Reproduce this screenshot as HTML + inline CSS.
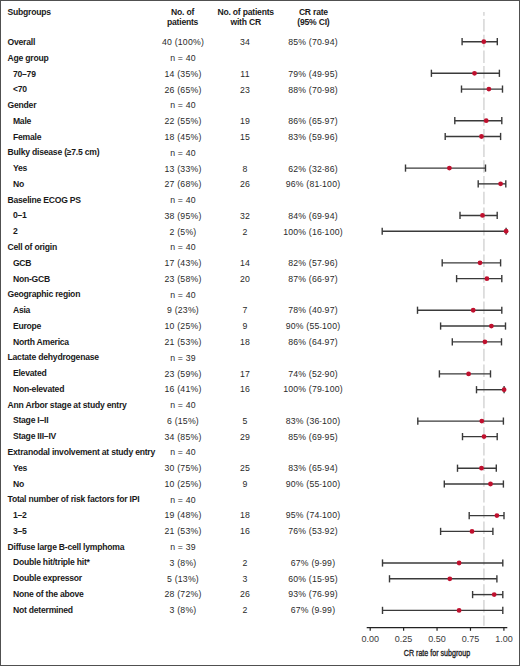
<!DOCTYPE html>
<html><head><meta charset="utf-8"><style>
html,body{margin:0;padding:0;background:#fff;}
#c{position:relative;width:520px;height:666px;overflow:hidden;background:#fff;font-family:"Liberation Sans",sans-serif;}
#c .bd{position:absolute;left:0;top:0;width:518px;height:664px;border:1px solid #505050;}
.l{position:absolute;font-size:8.6px;line-height:12px;font-weight:bold;color:#1a1a1a;white-space:nowrap;letter-spacing:-0.22px;}
.d{position:absolute;width:80px;text-align:center;font-size:8.4px;line-height:12px;color:#2a2a2a;white-space:nowrap;letter-spacing:0.2px;transform:scaleX(1.04);transform-origin:50% 50%;}
.h{position:absolute;width:90px;text-align:center;font-size:8.6px;line-height:10px;font-weight:bold;color:#1a1a1a;white-space:nowrap;letter-spacing:-0.22px;}
.hy{font-size:6.6px;position:relative;top:-0.5px;}
.tk{position:absolute;width:40px;text-align:center;font-size:9px;line-height:12px;color:#3a3a3a;white-space:nowrap;}
.at{position:absolute;width:100px;text-align:center;font-size:9.3px;line-height:12px;color:#222;white-space:nowrap;-webkit-text-stroke:0.35px #222;transform:scaleX(0.765);transform-origin:50% 0;}
svg{position:absolute;left:0;top:0;}
</style></head><body><div id="c">
<svg width="520" height="666" viewBox="0 0 520 666"><line x1="483.9" y1="12" x2="483.9" y2="625.8" stroke="#dcdcdc" stroke-width="1.8" stroke-dasharray="12.5,3.2" stroke-dashoffset="8.7"/><line x1="462.1" y1="41.70" x2="497.3" y2="41.70" stroke="#3a3a3a" stroke-width="1.4"/><line x1="462.1" y1="38.10" x2="462.1" y2="45.30" stroke="#3a3a3a" stroke-width="1.4"/><line x1="497.3" y1="38.10" x2="497.3" y2="45.30" stroke="#3a3a3a" stroke-width="1.4"/><circle cx="483.8" cy="41.70" r="2.4" fill="#c0102e"/><line x1="431.4" y1="73.29" x2="499.4" y2="73.29" stroke="#3a3a3a" stroke-width="1.4"/><line x1="431.4" y1="69.69" x2="431.4" y2="76.89" stroke="#3a3a3a" stroke-width="1.4"/><line x1="499.4" y1="69.69" x2="499.4" y2="76.89" stroke="#3a3a3a" stroke-width="1.4"/><circle cx="474.5" cy="73.29" r="2.4" fill="#c0102e"/><line x1="461.5" y1="89.09" x2="502.5" y2="89.09" stroke="#3a3a3a" stroke-width="1.4"/><line x1="461.5" y1="85.49" x2="461.5" y2="92.69" stroke="#3a3a3a" stroke-width="1.4"/><line x1="502.5" y1="85.49" x2="502.5" y2="92.69" stroke="#3a3a3a" stroke-width="1.4"/><circle cx="488.9" cy="89.09" r="2.4" fill="#c0102e"/><line x1="454.8" y1="120.69" x2="501.8" y2="120.69" stroke="#3a3a3a" stroke-width="1.4"/><line x1="454.8" y1="117.09" x2="454.8" y2="124.28" stroke="#3a3a3a" stroke-width="1.4"/><line x1="501.8" y1="117.09" x2="501.8" y2="124.28" stroke="#3a3a3a" stroke-width="1.4"/><circle cx="486.2" cy="120.69" r="2.4" fill="#c0102e"/><line x1="445.2" y1="136.48" x2="500.6" y2="136.48" stroke="#3a3a3a" stroke-width="1.4"/><line x1="445.2" y1="132.88" x2="445.2" y2="140.08" stroke="#3a3a3a" stroke-width="1.4"/><line x1="500.6" y1="132.88" x2="500.6" y2="140.08" stroke="#3a3a3a" stroke-width="1.4"/><circle cx="481.5" cy="136.48" r="2.4" fill="#c0102e"/><line x1="405.5" y1="168.08" x2="485.5" y2="168.08" stroke="#3a3a3a" stroke-width="1.4"/><line x1="405.5" y1="164.48" x2="405.5" y2="171.68" stroke="#3a3a3a" stroke-width="1.4"/><line x1="485.5" y1="164.48" x2="485.5" y2="171.68" stroke="#3a3a3a" stroke-width="1.4"/><circle cx="449.4" cy="168.08" r="2.4" fill="#c0102e"/><line x1="478.2" y1="183.87" x2="505.8" y2="183.87" stroke="#3a3a3a" stroke-width="1.4"/><line x1="478.2" y1="180.27" x2="478.2" y2="187.47" stroke="#3a3a3a" stroke-width="1.4"/><line x1="505.8" y1="180.27" x2="505.8" y2="187.47" stroke="#3a3a3a" stroke-width="1.4"/><circle cx="500.6" cy="183.87" r="2.4" fill="#c0102e"/><line x1="460.0" y1="215.47" x2="497.2" y2="215.47" stroke="#3a3a3a" stroke-width="1.4"/><line x1="460.0" y1="211.87" x2="460.0" y2="219.07" stroke="#3a3a3a" stroke-width="1.4"/><line x1="497.2" y1="211.87" x2="497.2" y2="219.07" stroke="#3a3a3a" stroke-width="1.4"/><circle cx="482.5" cy="215.47" r="2.4" fill="#c0102e"/><line x1="382.2" y1="231.26" x2="506.1" y2="231.26" stroke="#3a3a3a" stroke-width="1.4"/><line x1="382.2" y1="227.66" x2="382.2" y2="234.86" stroke="#3a3a3a" stroke-width="1.4"/><line x1="506.1" y1="227.66" x2="506.1" y2="234.86" stroke="#3a3a3a" stroke-width="1.4"/><circle cx="506.1" cy="231.26" r="2.4" fill="#c0102e"/><line x1="442.2" y1="262.86" x2="500.6" y2="262.86" stroke="#3a3a3a" stroke-width="1.4"/><line x1="442.2" y1="259.26" x2="442.2" y2="266.46" stroke="#3a3a3a" stroke-width="1.4"/><line x1="500.6" y1="259.26" x2="500.6" y2="266.46" stroke="#3a3a3a" stroke-width="1.4"/><circle cx="480.0" cy="262.86" r="2.4" fill="#c0102e"/><line x1="456.6" y1="278.66" x2="501.8" y2="278.66" stroke="#3a3a3a" stroke-width="1.4"/><line x1="456.6" y1="275.06" x2="456.6" y2="282.26" stroke="#3a3a3a" stroke-width="1.4"/><line x1="501.8" y1="275.06" x2="501.8" y2="282.26" stroke="#3a3a3a" stroke-width="1.4"/><circle cx="486.9" cy="278.66" r="2.4" fill="#c0102e"/><line x1="417.5" y1="310.25" x2="501.8" y2="310.25" stroke="#3a3a3a" stroke-width="1.4"/><line x1="417.5" y1="306.65" x2="417.5" y2="313.85" stroke="#3a3a3a" stroke-width="1.4"/><line x1="501.8" y1="306.65" x2="501.8" y2="313.85" stroke="#3a3a3a" stroke-width="1.4"/><circle cx="473.2" cy="310.25" r="2.4" fill="#c0102e"/><line x1="440.6" y1="326.05" x2="505.5" y2="326.05" stroke="#3a3a3a" stroke-width="1.4"/><line x1="440.6" y1="322.45" x2="440.6" y2="329.65" stroke="#3a3a3a" stroke-width="1.4"/><line x1="505.5" y1="322.45" x2="505.5" y2="329.65" stroke="#3a3a3a" stroke-width="1.4"/><circle cx="491.4" cy="326.05" r="2.4" fill="#c0102e"/><line x1="452.3" y1="341.84" x2="501.5" y2="341.84" stroke="#3a3a3a" stroke-width="1.4"/><line x1="452.3" y1="338.24" x2="452.3" y2="345.44" stroke="#3a3a3a" stroke-width="1.4"/><line x1="501.5" y1="338.24" x2="501.5" y2="345.44" stroke="#3a3a3a" stroke-width="1.4"/><circle cx="484.9" cy="341.84" r="2.4" fill="#c0102e"/><line x1="439.4" y1="373.90" x2="490.5" y2="373.90" stroke="#3a3a3a" stroke-width="1.4"/><line x1="439.4" y1="370.30" x2="439.4" y2="377.50" stroke="#3a3a3a" stroke-width="1.4"/><line x1="490.5" y1="370.30" x2="490.5" y2="377.50" stroke="#3a3a3a" stroke-width="1.4"/><circle cx="468.6" cy="373.90" r="2.4" fill="#c0102e"/><line x1="476.5" y1="389.70" x2="504.1" y2="389.70" stroke="#3a3a3a" stroke-width="1.4"/><line x1="476.5" y1="386.10" x2="476.5" y2="393.30" stroke="#3a3a3a" stroke-width="1.4"/><line x1="504.1" y1="386.10" x2="504.1" y2="393.30" stroke="#3a3a3a" stroke-width="1.4"/><circle cx="504.1" cy="389.70" r="2.4" fill="#c0102e"/><line x1="417.8" y1="421.10" x2="503.4" y2="421.10" stroke="#3a3a3a" stroke-width="1.4"/><line x1="417.8" y1="417.50" x2="417.8" y2="424.70" stroke="#3a3a3a" stroke-width="1.4"/><line x1="503.4" y1="417.50" x2="503.4" y2="424.70" stroke="#3a3a3a" stroke-width="1.4"/><circle cx="481.8" cy="421.10" r="2.4" fill="#c0102e"/><line x1="462.5" y1="436.62" x2="497.2" y2="436.62" stroke="#3a3a3a" stroke-width="1.4"/><line x1="462.5" y1="433.02" x2="462.5" y2="440.23" stroke="#3a3a3a" stroke-width="1.4"/><line x1="497.2" y1="433.02" x2="497.2" y2="440.23" stroke="#3a3a3a" stroke-width="1.4"/><circle cx="484.0" cy="436.62" r="2.4" fill="#c0102e"/><line x1="457.5" y1="468.22" x2="496.3" y2="468.22" stroke="#3a3a3a" stroke-width="1.4"/><line x1="457.5" y1="464.62" x2="457.5" y2="471.82" stroke="#3a3a3a" stroke-width="1.4"/><line x1="496.3" y1="464.62" x2="496.3" y2="471.82" stroke="#3a3a3a" stroke-width="1.4"/><circle cx="481.5" cy="468.22" r="2.4" fill="#c0102e"/><line x1="444.3" y1="484.02" x2="503.4" y2="484.02" stroke="#3a3a3a" stroke-width="1.4"/><line x1="444.3" y1="480.42" x2="444.3" y2="487.62" stroke="#3a3a3a" stroke-width="1.4"/><line x1="503.4" y1="480.42" x2="503.4" y2="487.62" stroke="#3a3a3a" stroke-width="1.4"/><circle cx="490.5" cy="484.02" r="2.4" fill="#c0102e"/><line x1="469.2" y1="515.61" x2="504.0" y2="515.61" stroke="#3a3a3a" stroke-width="1.4"/><line x1="469.2" y1="512.01" x2="469.2" y2="519.21" stroke="#3a3a3a" stroke-width="1.4"/><line x1="504.0" y1="512.01" x2="504.0" y2="519.21" stroke="#3a3a3a" stroke-width="1.4"/><circle cx="496.9" cy="515.61" r="2.4" fill="#c0102e"/><line x1="440.6" y1="531.41" x2="492.9" y2="531.41" stroke="#3a3a3a" stroke-width="1.4"/><line x1="440.6" y1="527.81" x2="440.6" y2="535.01" stroke="#3a3a3a" stroke-width="1.4"/><line x1="492.9" y1="527.81" x2="492.9" y2="535.01" stroke="#3a3a3a" stroke-width="1.4"/><circle cx="472.0" cy="531.41" r="2.4" fill="#c0102e"/><line x1="382.5" y1="563.00" x2="502.8" y2="563.00" stroke="#3a3a3a" stroke-width="1.4"/><line x1="382.5" y1="559.40" x2="382.5" y2="566.60" stroke="#3a3a3a" stroke-width="1.4"/><line x1="502.8" y1="559.40" x2="502.8" y2="566.60" stroke="#3a3a3a" stroke-width="1.4"/><circle cx="459.1" cy="563.00" r="2.4" fill="#c0102e"/><line x1="389.5" y1="578.80" x2="496.9" y2="578.80" stroke="#3a3a3a" stroke-width="1.4"/><line x1="389.5" y1="575.20" x2="389.5" y2="582.40" stroke="#3a3a3a" stroke-width="1.4"/><line x1="496.9" y1="575.20" x2="496.9" y2="582.40" stroke="#3a3a3a" stroke-width="1.4"/><circle cx="449.8" cy="578.80" r="2.4" fill="#c0102e"/><line x1="472.6" y1="594.60" x2="502.8" y2="594.60" stroke="#3a3a3a" stroke-width="1.4"/><line x1="472.6" y1="591.00" x2="472.6" y2="598.20" stroke="#3a3a3a" stroke-width="1.4"/><line x1="502.8" y1="591.00" x2="502.8" y2="598.20" stroke="#3a3a3a" stroke-width="1.4"/><circle cx="494.2" cy="594.60" r="2.4" fill="#c0102e"/><line x1="382.5" y1="610.39" x2="502.8" y2="610.39" stroke="#3a3a3a" stroke-width="1.4"/><line x1="382.5" y1="606.79" x2="382.5" y2="613.99" stroke="#3a3a3a" stroke-width="1.4"/><line x1="502.8" y1="606.79" x2="502.8" y2="613.99" stroke="#3a3a3a" stroke-width="1.4"/><circle cx="459.1" cy="610.39" r="2.4" fill="#c0102e"/><line x1="366.7" y1="627.6" x2="507.3" y2="627.6" stroke="#222" stroke-width="1.4"/><line x1="370.20" y1="627.6" x2="370.20" y2="630.8000000000001" stroke="#222" stroke-width="1.2"/><line x1="403.62" y1="627.6" x2="403.62" y2="630.8000000000001" stroke="#222" stroke-width="1.2"/><line x1="437.05" y1="627.6" x2="437.05" y2="630.8000000000001" stroke="#222" stroke-width="1.2"/><line x1="470.47" y1="627.6" x2="470.47" y2="630.8000000000001" stroke="#222" stroke-width="1.2"/><line x1="503.90" y1="627.6" x2="503.90" y2="630.8000000000001" stroke="#222" stroke-width="1.2"/></svg>
<div class="l" style="left:7.5px;top:6.00px">Subgroups</div>
<div class="h" style="left:137.6px;top:7.26px">No. of<br>patients</div>
<div class="h" style="left:200.7px;top:7.26px">No. of patients<br>with CR</div>
<div class="h" style="left:268.4px;top:7.26px">CR rate<br>(95% CI)</div>
<div class="l" style="left:7.5px;top:36.00px">Overall</div><div class="d" style="left:142.6px;top:36.39px">40 (100%)</div><div class="d" style="left:205.2px;top:36.39px">34</div><div class="d" style="left:273.4px;top:36.39px">85% (70<span class="hy">-</span>94)</div><div class="l" style="left:7.5px;top:51.77px">Age group</div><div class="d" style="left:142.6px;top:52.16px">n = 40</div><div class="l" style="left:12.9px;top:67.54px">70–79</div><div class="d" style="left:142.6px;top:67.93px">14 (35%)</div><div class="d" style="left:205.2px;top:67.93px">11</div><div class="d" style="left:273.4px;top:67.93px">79% (49<span class="hy">-</span>95)</div><div class="l" style="left:12.9px;top:83.31px">&lt;70</div><div class="d" style="left:142.6px;top:83.70px">26 (65%)</div><div class="d" style="left:205.2px;top:83.70px">23</div><div class="d" style="left:273.4px;top:83.70px">88% (70<span class="hy">-</span>98)</div><div class="l" style="left:7.5px;top:99.08px">Gender</div><div class="d" style="left:142.6px;top:99.47px">n = 40</div><div class="l" style="left:12.9px;top:114.85px">Male</div><div class="d" style="left:142.6px;top:115.24px">22 (55%)</div><div class="d" style="left:205.2px;top:115.24px">19</div><div class="d" style="left:273.4px;top:115.24px">86% (65<span class="hy">-</span>97)</div><div class="l" style="left:12.9px;top:130.62px">Female</div><div class="d" style="left:142.6px;top:131.01px">18 (45%)</div><div class="d" style="left:205.2px;top:131.01px">15</div><div class="d" style="left:273.4px;top:131.01px">83% (59<span class="hy">-</span>96)</div><div class="l" style="left:7.5px;top:146.39px">Bulky disease (≥7.5 cm)</div><div class="d" style="left:142.6px;top:146.78px">n = 40</div><div class="l" style="left:12.9px;top:162.16px">Yes</div><div class="d" style="left:142.6px;top:162.55px">13 (33%)</div><div class="d" style="left:205.2px;top:162.55px">8</div><div class="d" style="left:273.4px;top:162.55px">62% (32<span class="hy">-</span>86)</div><div class="l" style="left:12.9px;top:177.93px">No</div><div class="d" style="left:142.6px;top:178.32px">27 (68%)</div><div class="d" style="left:205.2px;top:178.32px">26</div><div class="d" style="left:273.4px;top:178.32px">96% (81<span class="hy">-</span>100)</div><div class="l" style="left:7.5px;top:193.70px">Baseline ECOG PS</div><div class="d" style="left:142.6px;top:194.09px">n = 40</div><div class="l" style="left:12.9px;top:209.47px">0–1</div><div class="d" style="left:142.6px;top:209.86px">38 (95%)</div><div class="d" style="left:205.2px;top:209.86px">32</div><div class="d" style="left:273.4px;top:209.86px">84% (69<span class="hy">-</span>94)</div><div class="l" style="left:12.9px;top:225.24px">2</div><div class="d" style="left:142.6px;top:225.63px">2 (5%)</div><div class="d" style="left:205.2px;top:225.63px">2</div><div class="d" style="left:273.4px;top:225.63px">100% (16<span class="hy">-</span>100)</div><div class="l" style="left:7.5px;top:241.01px">Cell of origin</div><div class="d" style="left:142.6px;top:241.40px">n = 40</div><div class="l" style="left:12.9px;top:256.78px">GCB</div><div class="d" style="left:142.6px;top:257.17px">17 (43%)</div><div class="d" style="left:205.2px;top:257.17px">14</div><div class="d" style="left:273.4px;top:257.17px">82% (57<span class="hy">-</span>96)</div><div class="l" style="left:12.9px;top:272.55px">Non-GCB</div><div class="d" style="left:142.6px;top:272.94px">23 (58%)</div><div class="d" style="left:205.2px;top:272.94px">20</div><div class="d" style="left:273.4px;top:272.94px">87% (66<span class="hy">-</span>97)</div><div class="l" style="left:7.5px;top:288.32px">Geographic region</div><div class="d" style="left:142.6px;top:288.71px">n = 40</div><div class="l" style="left:12.9px;top:304.09px">Asia</div><div class="d" style="left:142.6px;top:304.48px">9 (23%)</div><div class="d" style="left:205.2px;top:304.48px">7</div><div class="d" style="left:273.4px;top:304.48px">78% (40<span class="hy">-</span>97)</div><div class="l" style="left:12.9px;top:319.86px">Europe</div><div class="d" style="left:142.6px;top:320.25px">10 (25%)</div><div class="d" style="left:205.2px;top:320.25px">9</div><div class="d" style="left:273.4px;top:320.25px">90% (55<span class="hy">-</span>100)</div><div class="l" style="left:12.9px;top:335.63px">North America</div><div class="d" style="left:142.6px;top:336.02px">21 (53%)</div><div class="d" style="left:205.2px;top:336.02px">18</div><div class="d" style="left:273.4px;top:336.02px">86% (64<span class="hy">-</span>97)</div><div class="l" style="left:7.5px;top:351.40px">Lactate dehydrogenase</div><div class="d" style="left:142.6px;top:351.79px">n = 39</div><div class="l" style="left:12.9px;top:367.17px">Elevated</div><div class="d" style="left:142.6px;top:367.56px">23 (59%)</div><div class="d" style="left:205.2px;top:367.56px">17</div><div class="d" style="left:273.4px;top:367.56px">74% (52<span class="hy">-</span>90)</div><div class="l" style="left:12.9px;top:382.94px">Non-elevated</div><div class="d" style="left:142.6px;top:383.33px">16 (41%)</div><div class="d" style="left:205.2px;top:383.33px">16</div><div class="d" style="left:273.4px;top:383.33px">100% (79<span class="hy">-</span>100)</div><div class="l" style="left:7.5px;top:398.71px">Ann Arbor stage at study entry</div><div class="d" style="left:142.6px;top:399.10px">n = 40</div><div class="l" style="left:12.9px;top:414.48px">Stage I–II</div><div class="d" style="left:142.6px;top:414.87px">6 (15%)</div><div class="d" style="left:205.2px;top:414.87px">5</div><div class="d" style="left:273.4px;top:414.87px">83% (36<span class="hy">-</span>100)</div><div class="l" style="left:12.9px;top:430.25px">Stage III–IV</div><div class="d" style="left:142.6px;top:430.64px">34 (85%)</div><div class="d" style="left:205.2px;top:430.64px">29</div><div class="d" style="left:273.4px;top:430.64px">85% (69<span class="hy">-</span>95)</div><div class="l" style="left:7.5px;top:446.02px">Extranodal involvement at study entry</div><div class="d" style="left:142.6px;top:446.41px">n = 40</div><div class="l" style="left:12.9px;top:461.79px">Yes</div><div class="d" style="left:142.6px;top:462.18px">30 (75%)</div><div class="d" style="left:205.2px;top:462.18px">25</div><div class="d" style="left:273.4px;top:462.18px">83% (65<span class="hy">-</span>94)</div><div class="l" style="left:12.9px;top:477.56px">No</div><div class="d" style="left:142.6px;top:477.95px">10 (25%)</div><div class="d" style="left:205.2px;top:477.95px">9</div><div class="d" style="left:273.4px;top:477.95px">90% (55<span class="hy">-</span>100)</div><div class="l" style="left:7.5px;top:493.33px">Total number of risk factors for IPI</div><div class="d" style="left:142.6px;top:493.72px">n = 40</div><div class="l" style="left:12.9px;top:509.10px">1–2</div><div class="d" style="left:142.6px;top:509.49px">19 (48%)</div><div class="d" style="left:205.2px;top:509.49px">18</div><div class="d" style="left:273.4px;top:509.49px">95% (74<span class="hy">-</span>100)</div><div class="l" style="left:12.9px;top:524.87px">3–5</div><div class="d" style="left:142.6px;top:525.26px">21 (53%)</div><div class="d" style="left:205.2px;top:525.26px">16</div><div class="d" style="left:273.4px;top:525.26px">76% (53<span class="hy">-</span>92)</div><div class="l" style="left:7.5px;top:540.64px">Diffuse large B-cell lymphoma</div><div class="d" style="left:142.6px;top:541.03px">n = 39</div><div class="l" style="left:12.9px;top:556.41px">Double hit/triple hit*</div><div class="d" style="left:142.6px;top:556.80px">3 (8%)</div><div class="d" style="left:205.2px;top:556.80px">2</div><div class="d" style="left:273.4px;top:556.80px">67% (9<span class="hy">-</span>99)</div><div class="l" style="left:12.9px;top:572.18px">Double expressor</div><div class="d" style="left:142.6px;top:572.57px">5 (13%)</div><div class="d" style="left:205.2px;top:572.57px">3</div><div class="d" style="left:273.4px;top:572.57px">60% (15<span class="hy">-</span>95)</div><div class="l" style="left:12.9px;top:587.95px">None of the above</div><div class="d" style="left:142.6px;top:588.34px">28 (72%)</div><div class="d" style="left:205.2px;top:588.34px">26</div><div class="d" style="left:273.4px;top:588.34px">93% (76<span class="hy">-</span>99)</div><div class="l" style="left:12.9px;top:603.72px">Not determined</div><div class="d" style="left:142.6px;top:604.11px">3 (8%)</div><div class="d" style="left:205.2px;top:604.11px">2</div><div class="d" style="left:273.4px;top:604.11px">67% (9<span class="hy">-</span>99)</div>
<div class="tk" style="left:350.20px;top:632.68px">0.00</div><div class="tk" style="left:383.62px;top:632.68px">0.25</div><div class="tk" style="left:417.05px;top:632.68px">0.50</div><div class="tk" style="left:450.47px;top:632.68px">0.75</div><div class="tk" style="left:483.90px;top:632.68px">1.00</div>
<div class="at" style="left:387px;top:646.58px">CR rate for subgroup</div>
<div class="bd"></div>
</div></body></html>
